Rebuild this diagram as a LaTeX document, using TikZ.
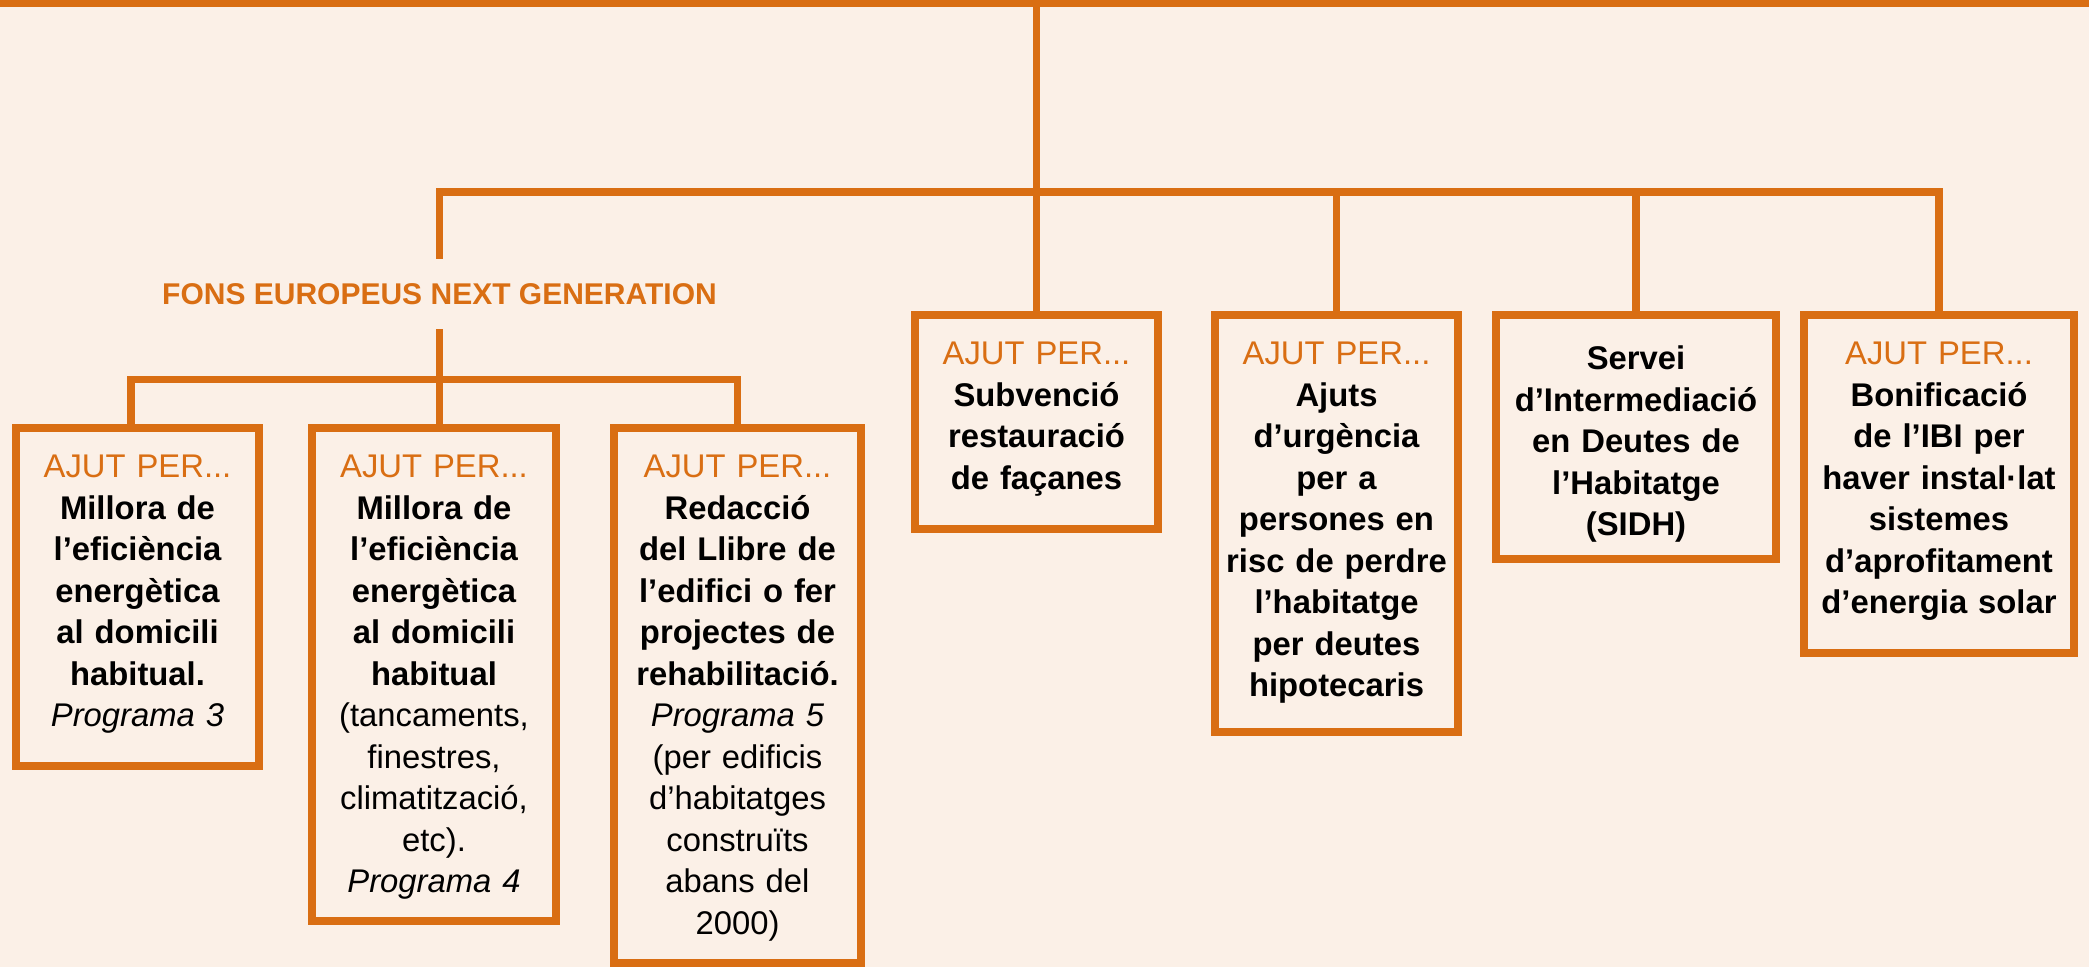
\documentclass[tikz,border=0pt]{standalone}
\usepackage{fontspec}
\setmainfont{Liberation Sans}
\usetikzlibrary{positioning, calc}
\definecolor{taronja}{HTML}{D96E13}
\definecolor{fonscol}{HTML}{FBF0E7}
\newcommand{\ajutper}{{\color{taronja}AJUT PER...}}

\begin{document}
\begin{tikzpicture}[
    x=0.5pt, y=-0.5pt,
    every node/.style={font=\fontsize{16.4}{20.75}\selectfont}, % 统一字体
    caixa/.style={draw=taronja, line width=3.8pt, inner sep=0pt, outer sep=0pt}, % 方框
    con/.style={draw=taronja, line width=3.8pt}, % 连接线
    txt/.style={align=center, text width=140pt, anchor=base, inner sep=0pt, text=black} % 方框文字
]
    % 1. 背景与顶部横条
    \fill[fonscol] (0,0) rectangle (2089,967);
    \useasboundingbox (0,0) rectangle (2089,967);
    \node[fill=taronja, inner sep=0pt, minimum width=1044.5pt, minimum height=3.5pt] (barra) at (1044.5,3.5) {};

    % 2. 方框(上排右侧四个)
    \node[caixa, minimum width=121.5pt, minimum height=107pt] (c4) at (1036.5,422) {};
    \node[caixa, minimum width=121.5pt, minimum height=208.5pt] (c5) at (1336.5,523.5) {};
    \node[caixa, minimum width=140pt, minimum height=122pt] (c6) at (1636,437) {};
    \node[caixa, minimum width=135pt, minimum height=169pt] (c7) at (1939,484) {};

    % 方框(下排左侧三个)
    \node[caixa, minimum width=121.5pt, minimum height=169pt] (c1) at (137.5,597) {};
    \node[caixa, minimum width=122pt, minimum height=246.5pt] (c2) at (434,674.5) {};
    \node[caixa, minimum width=123.5pt, minimum height=267.5pt] (c3) at (737.5,695.5) {};

    % 3. 标题
    \node[font=\bfseries\fontsize{15}{18}\selectfont, text=taronja, inner xsep=0pt, inner ysep=12pt] (fons) at (439.5,294) {FONS EUROPEUS NEXT GENERATION};

    % 4. 连接线
    \coordinate (bus7) at (1939,192);
    \coordinate (bl) at (131,379.5);
    \coordinate (br) at (737.5,379.5);
    \draw[con] (barra.south -| c4.north) -- (c4.north);
    \draw[con] (fons.north) |- (bus7) -- (c7.north);
    \foreach \k in {c5,c6} {
        \draw[con] (\k.north |- bus7) -- (\k.north);
    }
    \draw[con] (fons.south) -- (fons.south |- c2.north);
    \draw[con] (bl |- c1.north) -- (bl) -- (br) -- (c3.north);

    % 5. 文字
    \node[txt] (t1) at (137.5,478) {\ajutper\\ {\bfseries Millora de\\ l’eficiència\\ energètica\\ al domicili\\ habitual.}\\ {\itshape Programa 3}};
    \node[txt] (t2) at (434,478) {\ajutper\\ {\bfseries Millora de\\ l’eficiència\\ energètica\\ al domicili\\ habitual}\\ (tancaments,\\ finestres,\\ climatització,\\ etc).\\ {\itshape Programa 4}};
    \node[txt] (t3) at (737.5,478) {\ajutper\\ {\bfseries Redacció\\ del Llibre de\\ l’edifici o fer\\ projectes de\\ rehabilitació.}\\ {\itshape Programa 5}\\ (per edificis\\ d’habitatges\\ construïts\\ abans del\\ 2000)};
    \node[txt] (t4) at (1036.5,365) {\ajutper\\ {\bfseries Subvenció\\ restauració\\ de façanes}};
    \node[txt] (t5) at (1336.5,365) {\ajutper\\ {\bfseries Ajuts\\ d’urgència\\ per a\\ persones en\\ risc de perdre\\ l’habitatge\\ per deutes\\ hipotecaris}};
    \node[txt] (t6) at (1636,370) {{\bfseries Servei\\ d’Intermediació\\ en Deutes de\\ l’Habitatge\\ (SIDH)}};
    \node[txt] (t7) at (1939,365) {\ajutper\\ {\bfseries Bonificació\\ de l’IBI per\\ haver instal·lat\\ sistemes\\ d’aprofitament\\ d’energia solar}};

\end{tikzpicture}
\end{document}
